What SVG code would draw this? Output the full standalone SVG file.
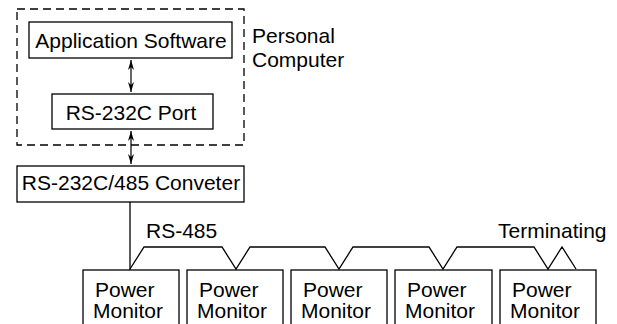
<svg xmlns="http://www.w3.org/2000/svg" width="617" height="324" viewBox="0 0 617 324">
<defs>
<style>
.box{fill:#fff;stroke:#000;stroke-width:1.3}
.dash{fill:none;stroke:#000;stroke-width:1.3;stroke-dasharray:8 5}
.t{font-family:"Liberation Sans",Arial,sans-serif;font-size:21px;fill:#000}
.c{text-anchor:middle}
.ln{fill:none;stroke:#000;stroke-width:1.3}
.ar{fill:none;stroke:#000;stroke-width:1.2;marker-start:url(#ah);marker-end:url(#ah)}
</style>
<marker id="ah" viewBox="0 0 10 6" refX="10" refY="3" markerWidth="10" markerHeight="6" markerUnits="userSpaceOnUse" orient="auto-start-reverse">
<path d="M0,0 L10,3 L0,6 L3,3 Z" fill="#000"/>
</marker>
</defs>
<g id="pc">
<rect class="dash" x="17" y="9" width="227" height="136"/>
<text class="t" x="252" y="43">Personal</text>
<text class="t" x="252" y="67">Computer</text>
</g>
<g id="app">
<rect class="box" x="29" y="22" width="203" height="36"/>
<text class="t c" x="131" y="48">Application Software</text>
</g>
<g id="port">
<rect class="box" x="52" y="94" width="161" height="35"/>
<text class="t c" x="131" y="120">RS-232C Port</text>
</g>
<g id="conv">
<rect class="box" x="17" y="166" width="227" height="36"/>
<text class="t c" x="131" y="190">RS-232C/485 Conveter</text>
</g>
<g id="pm1">
<rect class="box" x="83" y="270" width="96" height="70"/>
<text class="t" x="95" y="297">Power</text>
<text class="t" x="93" y="318">Monitor</text>
</g>
<g id="pm2">
<rect class="box" x="187" y="270" width="96" height="70"/>
<text class="t" x="199" y="297">Power</text>
<text class="t" x="197" y="318">Monitor</text>
</g>
<g id="pm3">
<rect class="box" x="291" y="270" width="96" height="70"/>
<text class="t" x="303" y="297">Power</text>
<text class="t" x="301" y="318">Monitor</text>
</g>
<g id="pm4">
<rect class="box" x="395" y="270" width="97" height="70"/>
<text class="t" x="407" y="297">Power</text>
<text class="t" x="405" y="318">Monitor</text>
</g>
<g id="pm5">
<rect class="box" x="500" y="270" width="96" height="70"/>
<text class="t" x="512" y="297">Power</text>
<text class="t" x="510" y="318">Monitor</text>
</g>
<g id="connectors">
<line class="ar" x1="131" y1="60" x2="131" y2="92"/>
<line class="ar" x1="131" y1="131" x2="131" y2="164"/>
<line class="ln" x1="130" y1="202" x2="130" y2="270"/>
<polyline class="ln" points="130,269 144,247 222,247 236,269 250,247 325,247 339,269 353,247 429,247 443,269 457,247 534,247 548,269 562,247 576,269"/>
<text class="t" x="146" y="238">RS-485</text>
<text class="t" x="498" y="238">Terminating</text>
</g>
</svg>
